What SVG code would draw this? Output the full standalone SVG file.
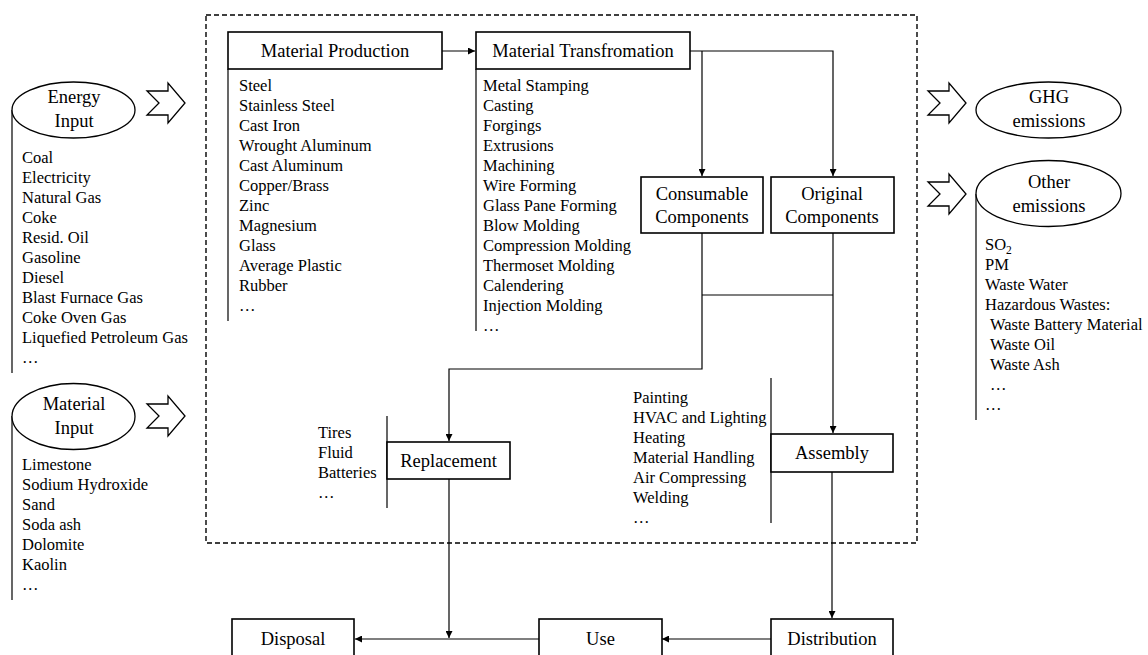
<svg xmlns="http://www.w3.org/2000/svg" width="1148" height="655" viewBox="0 0 1148 655">
<defs>
<style>
text{font-family:"Liberation Serif","Times New Roman",serif;fill:#000}
.lst{font-size:16.5px}
.lbl{font-size:18.5px;text-anchor:middle}
.box{fill:#fff;stroke:#000;stroke-width:1.6}
.ell{fill:#fff;stroke:#000;stroke-width:1.3}
.bar{stroke:#000;stroke-width:1.2;fill:none}
.con{stroke:#000;stroke-width:1.2;fill:none}
.hol{fill:#fff;stroke:#000;stroke-width:1.3;stroke-linejoin:miter}
</style>
<marker id="ah" viewBox="0 0 10 10" refX="10" refY="5" markerWidth="7" markerHeight="7" markerUnits="userSpaceOnUse" orient="auto">
<path d="M0,0 L10,5 L0,10 z" fill="#000"/>
</marker>
<path id="hollow" d="M0,-12 L21,-12 L21,-20 L38,0 L21,20 L21,12 L0,12 L12,0 z"/>
</defs>
<rect width="1148" height="655" fill="#fff"/>

<rect x="206" y="15" width="711" height="528" fill="none" stroke="#000" stroke-width="1.4" stroke-dasharray="5 3"/>

<g id="connectors">
<path class="con" d="M442,51 H475" marker-end="url(#ah)"/>
<path class="con" d="M690,51 H833 V176" marker-end="url(#ah)"/>
<path class="con" d="M702,51 V176" marker-end="url(#ah)"/>
<path class="con" d="M702,233 V369 H449 V441" marker-end="url(#ah)"/>
<path class="con" d="M833,233 V433" marker-end="url(#ah)"/>
<path class="con" d="M702,295 H833"/>
<path class="con" d="M832,472 V618" marker-end="url(#ah)"/>
<path class="con" d="M449,479 V638" marker-end="url(#ah)"/>
<path class="con" d="M771,639 H662" marker-end="url(#ah)"/>
<path class="con" d="M539,639 H355" marker-end="url(#ah)"/>
</g>

<g id="energy-input">
<path class="bar" d="M12,110 V373"/>
<ellipse class="ell" cx="73.5" cy="110" rx="61.5" ry="28"/>
<text class="lbl" x="74" y="103">Energy</text>
<text class="lbl" x="74" y="127">Input</text>
<use href="#hollow" x="147" y="103" class="hol"/>
<text class="lst" x="22" y="163">Coal</text>
<text class="lst" x="22" y="183">Electricity</text>
<text class="lst" x="22" y="203">Natural Gas</text>
<text class="lst" x="22" y="223">Coke</text>
<text class="lst" x="22" y="243">Resid. Oil</text>
<text class="lst" x="22" y="263">Gasoline</text>
<text class="lst" x="22" y="283">Diesel</text>
<text class="lst" x="22" y="303">Blast Furnace Gas</text>
<text class="lst" x="22" y="323">Coke Oven Gas</text>
<text class="lst" x="22" y="343">Liquefied Petroleum Gas</text>
<text class="lst" x="22" y="363">…</text>
</g>

<g id="material-input">
<path class="bar" d="M12,416 V600"/>
<ellipse class="ell" cx="73.5" cy="416.5" rx="61.5" ry="33"/>
<text class="lbl" x="74" y="410">Material</text>
<text class="lbl" x="74" y="434">Input</text>
<use href="#hollow" x="147" y="416" class="hol"/>
<text class="lst" x="22" y="470">Limestone</text>
<text class="lst" x="22" y="490">Sodium Hydroxide</text>
<text class="lst" x="22" y="510">Sand</text>
<text class="lst" x="22" y="530">Soda ash</text>
<text class="lst" x="22" y="550">Dolomite</text>
<text class="lst" x="22" y="570">Kaolin</text>
<text class="lst" x="22" y="590">…</text>
</g>

<g id="material-production">
<path class="bar" d="M228,69 V321"/>
<rect class="box" x="228" y="32" width="214" height="37"/>
<text class="lbl" x="335" y="57">Material Production</text>
<text class="lst" x="239" y="91">Steel</text>
<text class="lst" x="239" y="111">Stainless Steel</text>
<text class="lst" x="239" y="131">Cast Iron</text>
<text class="lst" x="239" y="151">Wrought Aluminum</text>
<text class="lst" x="239" y="171">Cast Aluminum</text>
<text class="lst" x="239" y="191">Copper/Brass</text>
<text class="lst" x="239" y="211">Zinc</text>
<text class="lst" x="239" y="231">Magnesium</text>
<text class="lst" x="239" y="251">Glass</text>
<text class="lst" x="239" y="271">Average Plastic</text>
<text class="lst" x="239" y="291">Rubber</text>
<text class="lst" x="239" y="311">…</text>
</g>

<g id="material-transformation">
<path class="bar" d="M476,69 V331"/>
<rect class="box" x="476" y="32" width="214" height="37"/>
<text class="lbl" x="583" y="57">Material Transfromation</text>
<text class="lst" x="483" y="91">Metal Stamping</text>
<text class="lst" x="483" y="111">Casting</text>
<text class="lst" x="483" y="131">Forgings</text>
<text class="lst" x="483" y="151">Extrusions</text>
<text class="lst" x="483" y="171">Machining</text>
<text class="lst" x="483" y="191">Wire Forming</text>
<text class="lst" x="483" y="211">Glass Pane Forming</text>
<text class="lst" x="483" y="231">Blow Molding</text>
<text class="lst" x="483" y="251">Compression Molding</text>
<text class="lst" x="483" y="271">Thermoset Molding</text>
<text class="lst" x="483" y="291">Calendering</text>
<text class="lst" x="483" y="311">Injection Molding</text>
<text class="lst" x="483" y="331">…</text>
</g>

<g id="consumable-components">
<rect class="box" x="641" y="177" width="122" height="56"/>
<text class="lbl" x="702" y="200">Consumable</text>
<text class="lbl" x="702" y="223">Components</text>
</g>

<g id="original-components">
<rect class="box" x="771" y="177" width="123" height="56"/>
<text class="lbl" x="832" y="200">Original</text>
<text class="lbl" x="832" y="223">Components</text>
</g>

<g id="replacement">
<path class="bar" d="M387,416 V508"/>
<rect class="box" x="387" y="442" width="123" height="37"/>
<text class="lbl" x="448.5" y="467">Replacement</text>
<text class="lst" x="318" y="438">Tires</text>
<text class="lst" x="318" y="458">Fluid</text>
<text class="lst" x="318" y="478">Batteries</text>
<text class="lst" x="318" y="498">…</text>
</g>

<g id="assembly">
<path class="bar" d="M771,378 V523"/>
<rect class="box" x="771" y="434" width="122" height="38"/>
<text class="lbl" x="832" y="459">Assembly</text>
<text class="lst" x="633" y="403">Painting</text>
<text class="lst" x="633" y="423">HVAC and Lighting</text>
<text class="lst" x="633" y="443">Heating</text>
<text class="lst" x="633" y="463">Material Handling</text>
<text class="lst" x="633" y="483">Air Compressing</text>
<text class="lst" x="633" y="503">Welding</text>
<text class="lst" x="633" y="523">…</text>
</g>

<g id="ghg-emissions">
<use href="#hollow" x="928" y="103" class="hol"/>
<ellipse class="ell" cx="1048.5" cy="110" rx="72.5" ry="28"/>
<text class="lbl" x="1049" y="103">GHG</text>
<text class="lbl" x="1049" y="127">emissions</text>
</g>

<g id="other-emissions">
<path class="bar" d="M976,194 V420"/>
<use href="#hollow" x="928" y="194" class="hol"/>
<ellipse class="ell" cx="1048.5" cy="193.5" rx="72.5" ry="33"/>
<text class="lbl" x="1049" y="188">Other</text>
<text class="lbl" x="1049" y="212">emissions</text>
<text class="lst" x="985" y="250">SO<tspan font-size="11.5" dy="4">2</tspan></text>
<text class="lst" x="985" y="270">PM</text>
<text class="lst" x="985" y="290">Waste Water</text>
<text class="lst" x="985" y="310">Hazardous Wastes:</text>
<text class="lst" x="990" y="330">Waste Battery Material</text>
<text class="lst" x="990" y="350">Waste Oil</text>
<text class="lst" x="990" y="370">Waste Ash</text>
<text class="lst" x="990" y="390">…</text>
<text class="lst" x="985" y="410">…</text>
</g>

<g id="disposal">
<rect class="box" x="232" y="619" width="122" height="42"/>
<text class="lbl" x="293" y="645">Disposal</text>
</g>

<g id="use">
<rect class="box" x="539" y="619" width="123" height="42"/>
<text class="lbl" x="600.5" y="645">Use</text>
</g>

<g id="distribution">
<rect class="box" x="771" y="619" width="122" height="42"/>
<text class="lbl" x="832" y="645">Distribution</text>
</g>
</svg>
